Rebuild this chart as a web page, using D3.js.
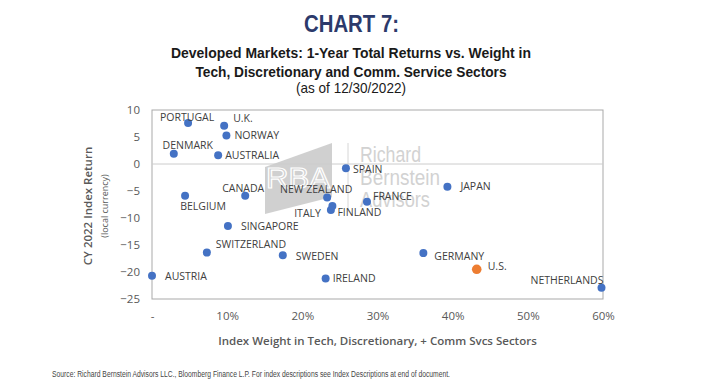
<!DOCTYPE html>
<html>
<head>
<meta charset="utf-8">
<script src="https://cdn.jsdelivr.net/npm/d3@7"></script>
<style>
  body { margin: 0; background: #fff; }
  svg { display: block; }
</style>
</head>
<body>
<div id="chart"></div>
<script>
// Chart values
const countries = ['PORTUGAL', 'U.K.', 'NORWAY', 'DENMARK', 'AUSTRALIA', 'SPAIN', 'BELGIUM', 'CANADA',
  'NEW ZEALAND', 'ITALY', 'FINLAND', 'FRANCE', 'JAPAN', 'SINGAPORE', 'SWITZERLAND', 'SWEDEN',
  'AUSTRIA', 'IRELAND', 'GERMANY', 'U.S.', 'NETHERLANDS'];
const techWeight = [4.8, 9.6, 9.9, 2.9, 8.8, 25.8, 4.4, 12.4,
  23.3, 23.8, 24.0, 28.6, 39.3, 10.1, 7.3, 17.4,
  0.0, 23.1, 36.1, 43.2, 59.8];
const indexReturn = [7.6, 7.1, 5.3, 1.9, 1.6, -0.8, -5.9, -5.9,
  -6.2, -8.5, -7.8, -7.0, -4.2, -11.5, -16.4, -16.9,
  -20.7, -21.2, -16.5, -19.5, -22.9];
const xTicks = [0, 10, 20, 30, 40, 50, 60];
const yTicks = [10, 5, 0, -5, -10, -15, -20, -25];

// where each data label sits relative to its point: [anchor, dx, dy]
const labelPlacement = {
  'PORTUGAL': ['middle', -1, -6], 'U.K.': ['start', 9, -7], 'NORWAY': ['start', 8, 0],
  'DENMARK': ['middle', 14, -8], 'AUSTRALIA': ['start', 7, 0], 'SPAIN': ['start', 7, 1],
  'BELGIUM': ['middle', 18, 10], 'CANADA': ['middle', -2, -8], 'NEW ZEALAND': ['middle', -11, -8],
  'ITALY': ['end', -10, 3], 'FINLAND': ['start', 5, 6], 'FRANCE': ['start', 6, -5],
  'JAPAN': ['start', 13, 0], 'SINGAPORE': ['start', 13, 0], 'SWITZERLAND': ['start', 9, -8],
  'SWEDEN': ['start', 13, 1], 'AUSTRIA': ['start', 13, 1], 'IRELAND': ['start', 7, 0],
  'GERMANY': ['start', 11, 3], 'U.S.': ['start', 11, -3], 'NETHERLANDS': ['end', 2, -7]
};

const width = 703, height = 384;
const plot = { left: 152, right: 603, top: 110, bottom: 299 };

const points = countries.map((c, i) => ({ name: c, x: techWeight[i], y: indexReturn[i] }));

const svg = d3.select('#chart').append('svg')
  .attr('width', width)
  .attr('height', height);

const x = d3.scaleLinear().domain([0, 60]).range([plot.left, plot.right]);
const y = d3.scaleLinear().domain([-25, 10]).range([plot.bottom, plot.top]);

// titles
svg.append('text')
  .attr('x', 351.5).attr('y', 32)
  .attr('text-anchor', 'middle')
  .attr('font-family', 'Liberation Sans, Arial, sans-serif')
  .attr('font-weight', 'bold')
  .attr('font-size', 23)
  .attr('fill', '#2c3a6b')
  .attr('textLength', 95).attr('lengthAdjust', 'spacingAndGlyphs')
  .text('CHART 7:');

const subLines = [
  { t: 'Developed Markets: 1-Year Total Returns vs. Weight in', y: 58, w: 360, bold: true },
  { t: 'Tech, Discretionary and Comm. Service Sectors', y: 77, w: 311, bold: true },
  { t: '(as of 12/30/2022)', y: 93, w: 110, bold: false }
];
svg.selectAll('.sub').data(subLines).enter().append('text')
  .attr('class', 'sub')
  .attr('x', 351).attr('y', d => d.y)
  .attr('text-anchor', 'middle')
  .attr('font-family', 'Liberation Sans Narrow, Liberation Sans, Arial, sans-serif')
  .attr('font-weight', d => d.bold ? 'bold' : 'normal')
  .attr('font-size', 15)
  .attr('fill', '#1a1a1a')
  .attr('textLength', d => d.w).attr('lengthAdjust', 'spacingAndGlyphs')
  .text(d => d.t);

// watermark
const wm = svg.append('g').attr('class', 'watermark');
wm.append('polygon')
  .attr('points', '265,167 332,143 332,197 265,214')
  .attr('fill', '#c8c8c8')
  .attr('opacity', 0.85);
wm.append('text')
  .attr('x', 298).attr('y', 188)
  .attr('text-anchor', 'middle')
  .attr('font-family', 'Liberation Sans, Arial, sans-serif')
  .attr('font-size', 30)
  .attr('fill', 'none').attr('stroke', '#fff').attr('stroke-width', 1.2)
  .attr('textLength', 64).attr('lengthAdjust', 'spacingAndGlyphs')
  .text('RBA');
wm.append('line')
  .attr('x1', 348).attr('x2', 348).attr('y1', 143).attr('y2', 212)
  .attr('stroke', '#d6d6d6');
['Richard', 'Bernstein', 'Advisors'].forEach((w, i) => {
  wm.append('text')
    .attr('x', 360).attr('y', 162 + i * 22.5)
    .attr('font-family', 'Liberation Sans Narrow, Liberation Sans, Arial, sans-serif')
    .attr('font-size', 22)
    .attr('fill', '#d2d2d2')
    .attr('textLength', [61, 80, 70][i]).attr('lengthAdjust', 'spacingAndGlyphs')
    .text(w);
});

// plot frame and zero line
svg.append('rect')
  .attr('x', plot.left).attr('y', plot.top)
  .attr('width', plot.right - plot.left).attr('height', plot.bottom - plot.top)
  .attr('fill', 'none').attr('stroke', '#a9a9a9').attr('stroke-width', 1);
svg.append('line')
  .attr('x1', plot.left).attr('x2', plot.right)
  .attr('y1', y(0)).attr('y2', y(0))
  .attr('stroke', '#cccccc');

// axes
const yAxis = d3.axisLeft(y).tickValues(yTicks).tickSize(0).tickPadding(12);
const gy = svg.append('g').attr('transform', `translate(${plot.left},0)`).call(yAxis);
const xAxis = d3.axisBottom(x).tickValues(xTicks).tickSize(0).tickPadding(13)
  .tickFormat(d => d === 0 ? '-' : d + '%');
const gx = svg.append('g').attr('transform', `translate(0,${plot.bottom})`).call(xAxis);
[gx, gy].forEach(g => {
  g.select('.domain').remove();
  g.selectAll('text')
    .attr('font-family', 'Open Sans, sans-serif')
    .attr('font-size', 11.5)
    .attr('fill', '#595959');
});

svg.append('text')
  .attr('x', (plot.left + plot.right) / 2).attr('y', 345)
  .attr('text-anchor', 'middle')
  .attr('font-family', 'Open Sans, sans-serif')
  .attr('font-weight', 600)
  .attr('font-size', 11.5)
  .attr('fill', '#595959')
  .text('Index Weight in Tech, Discretionary, + Comm Svcs Sectors');

svg.append('text')
  .attr('transform', 'translate(92,206) rotate(-90)')
  .attr('text-anchor', 'middle')
  .attr('font-family', 'Open Sans, sans-serif')
  .attr('font-weight', 600)
  .attr('font-size', 11.5)
  .attr('fill', '#595959')
  .text('CY 2022 Index Return');
svg.append('text')
  .attr('transform', 'translate(108,206) rotate(-90)')
  .attr('text-anchor', 'middle')
  .attr('font-family', 'Open Sans, sans-serif')
  .attr('font-size', 9)
  .attr('fill', '#595959')
  .text('(local currency)');

// points
svg.append('g').selectAll('circle')
  .data(points)
  .enter().append('circle')
  .attr('cx', d => x(d.x))
  .attr('cy', d => y(d.y))
  .attr('r', d => d.name === 'U.S.' ? 4.8 : 4)
  .attr('fill', d => d.name === 'U.S.' ? '#ed7d31' : '#4472c4');

// data labels
svg.append('g').selectAll('text')
  .data(points)
  .enter().append('text')
  .attr('x', d => x(d.x) + labelPlacement[d.name][1])
  .attr('y', d => y(d.y) + labelPlacement[d.name][2])
  .attr('dy', '0.35em')
  .attr('text-anchor', d => labelPlacement[d.name][0])
  .attr('font-family', 'Open Sans, sans-serif')
  .attr('font-size', 10.5)
  .attr('fill', '#404040')
  .text(d => d.name);

// source note
svg.append('text')
  .attr('x', 52).attr('y', 377)
  .attr('font-family', 'Liberation Sans Narrow, Liberation Sans, Arial, sans-serif')
  .attr('font-size', 8.5)
  .attr('fill', '#444')
  .attr('textLength', 398).attr('lengthAdjust', 'spacingAndGlyphs')
  .text('Source:  Richard Bernstein Advisors LLC., Bloomberg Finance L.P. For index descriptions see Index Descriptions at end of document.');
</script>
</body>
</html>
